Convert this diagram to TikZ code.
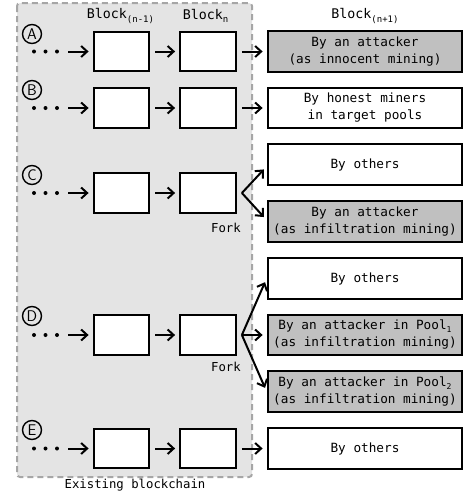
\documentclass[tikz,border=0pt]{standalone}
\usepackage{fontspec}
\setmainfont{DejaVu Sans}
\setmonofont{DejaVu Sans Mono}
\usepackage{tikz}
\usetikzlibrary{arrows.meta}
\usetikzlibrary{positioning}

\definecolor{chainbg}{RGB}{228,228,228}
\definecolor{chainedge}{RGB}{166,166,166}
\definecolor{attackfill}{RGB}{192,192,192}
\newcommand{\lowidx}[1]{\raisebox{-0.45ex}{\fontsize{9}{9}\selectfont #1}}
\newcommand{\tinyidx}[1]{\raisebox{-0.4ex}{\fontsize{8}{8}\selectfont #1}}

\begin{document}
\begin{tikzpicture}[x=1pt,y=-1pt,->,>={Straight Barb[length=6pt,width=11pt]},line width=2pt,shorten >=4pt,node distance=86.5pt,on grid,
    block/.style={draw,line width=2.3pt,fill=white,minimum width=55.5pt,minimum height=39.5pt,inner sep=0pt},
    mined/.style={draw,line width=2.3pt,fill=white,minimum width=194.5pt,minimum height=40.5pt,inner sep=0pt,align=center,font=\ttfamily\fontsize{12.7}{17}\selectfont},
    attacker/.style={mined,fill=attackfill},
    case/.style={draw,circle,line width=1.4pt,inner sep=0pt,minimum size=19pt,font=\sffamily\fontsize{15.5}{15.5}\selectfont},
    head/.style={font=\ttfamily\fontsize{13.3}{15}\selectfont},
    note/.style={font=\ttfamily\fontsize{12.3}{14}\selectfont},
    link/.style={shorten <=5pt}]
    \useasboundingbox (0,0) rectangle (464,496);
    % existing chain area
    \draw[-,fill=chainbg,draw=chainedge,line width=2pt,dash pattern=on 6pt off 4pt,rounded corners=3pt] (17,3) rectangle (252,477);
    \node[note] (chain) at (135,485) {Existing blockchain};

    % rows of blocks
    \node[block] (A1) at (121.5,51.5) {};
    \node[block] (A2) [right=of A1] {};
    \node[attacker] (A3) [right=157pt of A2] {By an attacker\\(as innocent mining)};
    \node[block] (B1) at (121.5,108) {};
    \node[block] (B2) [right=of B1] {};
    \node[mined] (B3) [right=157pt of B2] {By honest miners\\in target pools};
    \node[block] (C1) at (121.5,193) {};
    \node[block] (C2) [right=of C1] {};
    \node[mined] (C3) at (365,164.5) {By others};
    \node[attacker] (C4) at (365,221.5) {By an attacker\\(as infiltration mining)};
    \node[block] (D1) at (121.5,335) {};
    \node[block] (D2) [right=of D1] {};
    \node[mined] (D3) at (365,278.5) {By others};
    \node[attacker] (D4) [right=157pt of D2] {By an attacker in Pool\tinyidx{1}\\(as infiltration mining)};
    \node[attacker] (D5) at (365,391.5) {By an attacker in Pool\tinyidx{2}\\(as infiltration mining)};
    \node[block] (E1) at (121.5,448.5) {};
    \node[block] (E2) [right=of E1] {};
    \node[mined] (E3) [right=157pt of E2] {By others};

    % headers
    \node[head] (h1) [above=35.5pt of A1,xshift=-1pt] {Block\lowidx{(n-1)}};
    \node[head] (h2) [above=35.5pt of A2,xshift=-2.5pt] {Block\lowidx{n}};
    \node[head] (h3) [above=35.5pt of A3] {Block\lowidx{(n+1)}};

    % case marks
    \node[case] (cA) at (32,34) {A};
    \node[case] (cB) at (32,90) {B};
    \node[case] (cC) at (32,175) {C};
    \node[case] (cD) at (32,316) {D};
    \node[case] (cE) at (32,430) {E};

    % leading dots
    \foreach \y/\r in {51.5/A,108/B,193/C,335/D,448.5/E} {
        \fill[-] (34,\y) circle (2) (45.5,\y) circle (2) (57,\y) circle (2);
        \coordinate (s\r) at (68,\y);
    }

    % links
    \draw (sA) -- (A1);
    \draw[link] (A1) -- (A2);
    \draw[link] (A2) -- (A3);
    \draw (sB) -- (B1);
    \draw[link] (B1) -- (B2);
    \draw[link] (B2) -- (B3);
    \draw (sC) -- (C1);
    \draw[link] (C1) -- (C2);
    \draw (sD) -- (D1);
    \draw[link] (D1) -- (D2);
    \draw (sE) -- (E1);
    \draw[link] (E1) -- (E2);
    \draw[link] (E2) -- (E3);

    % forks
    \coordinate (forkC) at ([xshift=5pt]C2.east);
    \draw (forkC) -- ([yshift=-2pt]C3.west);
    \draw (forkC) -- ([yshift=1.5pt]C4.west);
    \node[note] (fC) at (226,228) {Fork};
    \coordinate (forkD) at ([xshift=5pt]D2.east);
    \draw (forkD) -- (D3.west);
    \draw (forkD) -- (D4.west);
    \draw (forkD) -- (D5.west);
    \node[note] (fD) at (226,367) {Fork};
\end{tikzpicture}
\end{document}
